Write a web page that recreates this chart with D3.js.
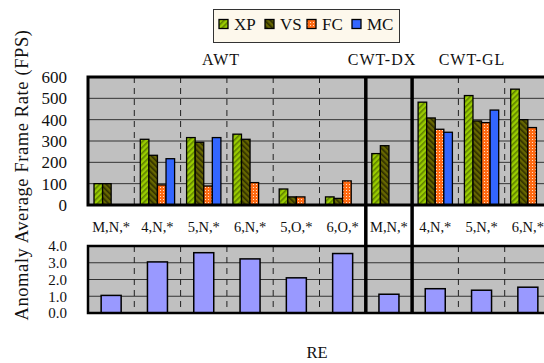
<!DOCTYPE html>
<html><head><meta charset="utf-8">
<script src="https://cdn.jsdelivr.net/npm/d3@7"></script>
<style>body{margin:0;background:#fff}svg{display:block}</style>
</head><body><svg id="c" width="544" height="363" font-family="'Liberation Serif', Tinos, 'Times New Roman', Times, 'DejaVu Serif', serif"></svg>
<script>
const categories = ["M,N,*","4,N,*","5,N,*","6,N,*","5,O,*","6,O,*","M,N,*","4,N,*","5,N,*","6,N,*"];
const groups = [{name:"AWT",from:0,to:5},{name:"CWT-DX",from:6,to:6},{name:"CWT-GL",from:7,to:9}];
const series = ["XP","VS","FC","MC"];
const XP = [100,308,316,332,75,38,241,482,513,543];
const VS = [100,233,294,308,38,31,278,408,394,400];
const FC = [0,94,89,105,38,113,0,355,386,363];
const MC = [0,217,316,0,0,0,0,341,445,0];
const anomaly = [1.05,3.05,3.6,3.23,2.1,3.55,1.12,1.45,1.36,1.54];
const topTicks = [0,100,200,300,400,500,600];
const botTicks = [0,1,2,3,4];
const values = {XP,VS,FC,MC};

const svg = d3.select("#c");
const defs = svg.append("defs");
function hatch(id, base, stripe, angle){
  const p = defs.append("pattern").attr("id",id).attr("patternUnits","userSpaceOnUse")
    .attr("width",4).attr("height",4).attr("patternTransform",`rotate(${angle})`);
  p.append("rect").attr("width",4).attr("height",4).attr("fill",base);
  p.append("rect").attr("width",1.6).attr("height",4).attr("fill",stripe);
}
hatch("pXP","#99cc00","#5f8000",45);
hatch("pVS","#666600","#2e2e00",-45);
{
  const p = defs.append("pattern").attr("id","pFC").attr("patternUnits","userSpaceOnUse").attr("width",3).attr("height",3);
  p.append("rect").attr("width",3).attr("height",3).attr("fill","#ff6a13");
  p.append("rect").attr("x",1).attr("y",1).attr("width",1).attr("height",1).attr("fill","#ffe0c8");
}
const fills = {XP:"url(#pXP)",VS:"url(#pVS)",FC:"url(#pFC)",MC:"#3366ff"};

const left = 88, catW = 46.3;
const x = d3.scaleBand().domain(d3.range(categories.length)).range([left, left+catW*categories.length]);
const x1 = d3.scaleBand().domain(series).range([6, catW-6]);
const yT = d3.scaleLinear().domain([0,600]).range([205,77]);
const yB = d3.scaleLinear().domain([0,4]).range([313,246]);
const right = 560;
const txt = "#111";

svg.append("rect").attr("x",left).attr("y",yT(600)).attr("width",right-left).attr("height",yT(0)-yT(600)).attr("fill","#c0c0c0");
svg.append("rect").attr("x",left).attr("y",yB(4)).attr("width",right-left).attr("height",yB(0)-yB(4)).attr("fill","#c0c0c0");

svg.append("g").selectAll("line").data(topTicks.slice(1,-1)).join("line")
  .attr("x1",left).attr("x2",right).attr("y1",d=>yT(d)).attr("y2",d=>yT(d)).attr("stroke","#333").attr("stroke-width",1);
svg.append("g").selectAll("line").data(botTicks.slice(1,-1)).join("line")
  .attr("x1",left).attr("x2",right).attr("y1",d=>yB(d)).attr("y2",d=>yB(d)).attr("stroke","#333").attr("stroke-width",1);

const groupStarts = new Set(groups.map(g=>g.from));
d3.range(1,categories.length).filter(i=>!groupStarts.has(i)).forEach(i=>{
  const xx = x(i);
  [[yT(600),yT(0)],[yB(4),yB(0)]].forEach(([a,b])=>{
    svg.append("line").attr("x1",xx).attr("x2",xx).attr("y1",a).attr("y2",b)
      .attr("stroke","#222").attr("stroke-width",1).attr("stroke-dasharray","6,5");
  });
});

const gT = svg.append("g");
categories.forEach((c,i)=>{
  series.forEach(s=>{
    const v = values[s][i];
    if(!v) return;
    gT.append("rect").attr("x",x(i)+x1(s)).attr("width",x1.bandwidth()).attr("y",yT(v)).attr("height",yT(0)-yT(v))
      .attr("fill",fills[s]).attr("stroke","#000").attr("stroke-width",1.3);
  });
});
svg.append("g").selectAll("rect").data(anomaly).join("rect")
  .attr("x",(d,i)=>x(i)+catW/2-10).attr("width",20).attr("y",d=>yB(d)).attr("height",d=>yB(0)-yB(d))
  .attr("fill","#9999ff").attr("stroke","#000").attr("stroke-width",1.5);

svg.append("path").attr("d",`M${right},${yT(600)}H${left}V${yT(0)}H${right}`).attr("fill","none").attr("stroke","#000").attr("stroke-width",3);
svg.append("path").attr("d",`M${right},${yB(4)}H${left}V${yB(0)}H${right}`).attr("fill","none").attr("stroke","#000").attr("stroke-width",2.5);

groups.slice(1).forEach(g=>{
  const xx = x(g.from);
  svg.append("line").attr("x1",xx).attr("x2",xx).attr("y1",yT(600)).attr("y2",yB(0)).attr("stroke","#000").attr("stroke-width",3.5);
});

svg.append("g").selectAll("text").data(topTicks).join("text").attr("fill",txt)
  .attr("x",67).attr("y",d=>yT(d)).attr("dy","0.35em").attr("text-anchor","end").attr("font-size",17).text(d=>d);
svg.append("g").selectAll("text").data(botTicks).join("text").attr("fill",txt)
  .attr("x",67).attr("y",d=>yB(d)).attr("dy","0.35em").attr("text-anchor","end").attr("font-size",15).text(d=>d.toFixed(1));

svg.append("g").selectAll("text").data(categories).join("text").attr("fill",txt)
  .attr("x",(d,i)=>x(i)+catW/2).attr("y",232).attr("text-anchor","middle").attr("font-size",14.5).text(d=>d);

const glx = {"AWT":221,"CWT-DX":382,"CWT-GL":472};
svg.append("g").selectAll("text").data(groups).join("text").attr("fill",txt)
  .attr("x",g=>glx[g.name]).attr("y",65).attr("text-anchor","middle").attr("font-size",16)
  .attr("letter-spacing",1).text(g=>g.name);

svg.append("text").attr("fill",txt).attr("transform","translate(28,175) rotate(-90)").attr("text-anchor","middle").attr("font-size",18.5)
  .attr("letter-spacing",0.6).text("Anomaly Average Frame Rate (FPS)");
svg.append("text").attr("fill",txt).attr("x",317).attr("y",358).attr("text-anchor","middle").attr("font-size",16.5).text("RE");

const lg = svg.append("g");
lg.append("rect").attr("x",213.5).attr("y",9.5).attr("width",186).attr("height",33).attr("fill","#fdf8ec").attr("stroke","#333");
const lx = [219,265,307,352];
series.forEach((s,i)=>{
  lg.append("rect").attr("x",lx[i]).attr("y",19.5).attr("width",9).attr("height",9).attr("fill",fills[s]).attr("stroke","#000").attr("stroke-width",1.3);
  lg.append("text").attr("fill",txt).attr("x",lx[i]+15).attr("y",24).attr("dy","0.35em").attr("font-size",17).text(s);
});
</script></body></html>
